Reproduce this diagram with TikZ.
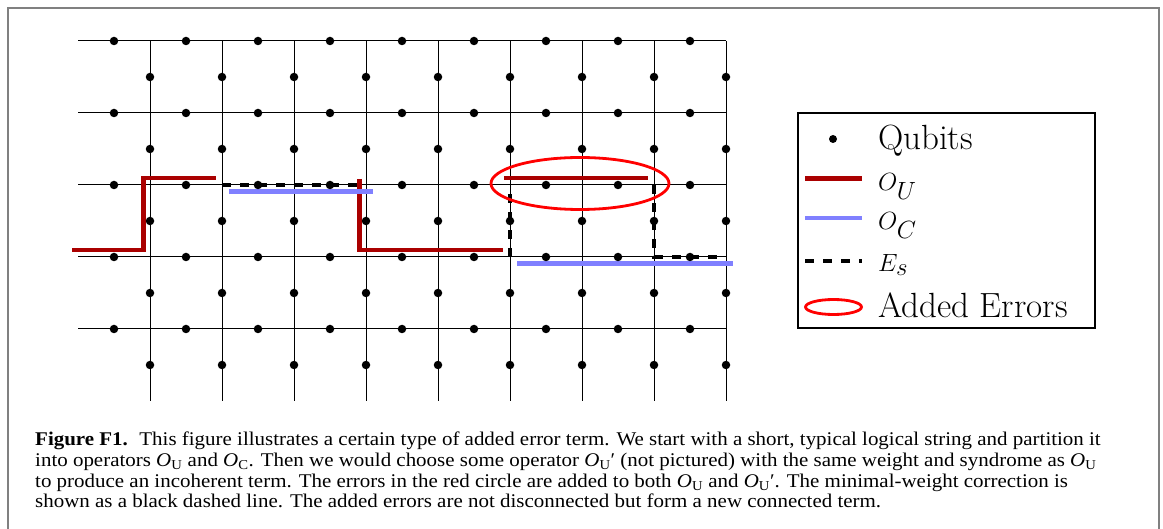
\documentclass[tikz,border=0pt]{standalone}
\usepackage{fontspec}
\newfontfamily\capfont{Liberation Serif}
\definecolor{ured}{RGB}{170,0,0}
\definecolor{ublue}{RGB}{128,128,255}
\definecolor{framegray}{RGB}{128,128,128}
\newcommand\OU{\textit{O}\smash{\textsubscript{U}}}
\newcommand\OC{\textit{O}\smash{\textsubscript{C}}}
\newcommand\OUp{\textit{O}\smash{\textsubscript{U}}′}
\newcommand\capline[1]{\scalebox{1.08}[1]{#1}}
\begin{document}
\begin{tikzpicture}[x=1pt,y=-1pt,
  gridline/.style={line width=1pt},
  qubit/.style={circle,fill=black,inner sep=0pt,minimum size=8.5pt},
  ou/.style={line width=4.5pt,draw=ured},
  oc/.style={line width=4.5pt,draw=ublue},
  es/.style={line width=3.5pt,dash pattern=on 9pt off 9pt},
  adderr/.style={draw=red,line width=2.8pt},
  legtext/.style={anchor=base west,inner sep=0pt,font=\fontsize{35}{40}\selectfont},
  captext/.style={anchor=base west,inner sep=0pt,font=\capfont\fontsize{19.4}{20}\selectfont}
]
\useasboundingbox (0,0) rectangle (1163,529);
% outer frame
\draw[framegray,line width=2pt] (8,529) -- (8,8) -- (1159,8) -- (1159,529);
% lattice
\foreach \k in {0,...,4} \draw[gridline] (78,{41+72*\k}) -- (726,{41+72*\k});
\foreach \j in {0,...,8} \draw[gridline] ({150+72*\j},41) -- ({150+72*\j},401);
% O_U
\draw[ou] (72,250) -- (143.5,250) -- (143.5,178) -- (215.5,178);
\draw[ou] (359.5,179) -- (359.5,250) -- (503,250);
\draw[ou] (504,178) -- (648,178);
% O_C
\draw[oc] (229,191.5) -- (373,191.5);
\draw[oc] (517,263.5) -- (733,263.5);
% E_s
\draw[es] (222,185) -- (360,185);
\draw[es] (510,257) -- (510,186);
\draw[es] (654,185) -- (654,257) -- (726,257);
% added errors
\draw[adderr] (580,183.5) ellipse [x radius=89, y radius=26];
% qubits
\foreach \k in {0,...,4} \foreach \i in {0,...,8} {
  \node[qubit] (h\k\i) at ({114+72*\i},{41+72*\k}) {};
  \node[qubit] (v\k\i) at ({150+72*\i},{77+72*\k}) {};
}
% legend
\draw[line width=2pt] (798,113) rectangle (1095,328);
\node[qubit,minimum size=8pt] (lq) at (833,139) {};
\node[legtext] (tq) at (878,150) {Qubits};
\draw[ou] (805,178.5) -- (862,178.5);
\node[legtext] (tu) at (878,191) {$O_U$};
\draw[oc] (805,218) -- (862,218);
\node[legtext] (tc) at (878,230) {$O_C$};
\draw[es] (805,261) -- (862,261);
\node[legtext] (te) at (878,272) {$E_s$};
\draw[adderr] (833.5,307) ellipse [x radius=28, y radius=7.5];
\node[legtext] (ta) at (878,318) {Added Errors};
% caption
\node[captext] (c1) at (35,446) {\capline{\textbf{Figure F1.}\hspace{0.55em}This figure illustrates a certain type of added error term. We start with a short, typical logical string and partition it}};
\node[captext] (c2) at (35,466.5) {\capline{into operators \OU{} and \OC. Then we would choose some operator \OUp{} (not pictured) with the same weight and syndrome as \OU}};
\node[captext] (c3) at (35,487) {\capline{to produce an incoherent term. The errors in the red circle are added to both \OU{} and \OUp. The minimal-weight correction is}};
\node[captext] (c4) at (35,507.5) {\capline{shown as a black dashed line. The added errors are not disconnected but form a new connected term.}};
\end{tikzpicture}
\end{document}
